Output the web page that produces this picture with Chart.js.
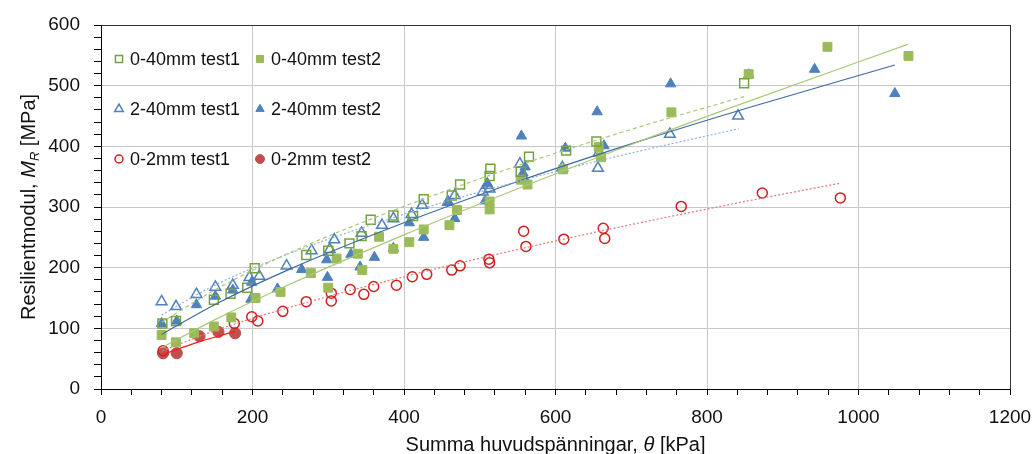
<!DOCTYPE html>
<html>
<head>
<meta charset="utf-8">
<title>Resilientmodul</title>
<script src="https://cdn.jsdelivr.net/npm/chart.js@4.4.1/dist/chart.umd.min.js"></script>
<style>
  body { margin: 0; background: #fff; }
  #wrap { position: relative; width: 1035px; height: 454px; }
</style>
</head>
<body>
<div id="wrap"><canvas id="mrChart"></canvas></div>
<script>
// measured points, theta [kPa] -> Mr [MPa]
const x_040_t1 = [81, 99, 149, 171, 193, 203, 271, 300, 328, 344, 356, 386, 412, 426, 463, 474, 513, 514, 554, 565, 614, 654, 849];
const y_040_t1 = [108, 112, 147, 157, 167, 199, 221, 228, 240, 252, 279, 286, 285, 313, 319, 337, 351, 363, 358, 383, 393, 408, 504];

const x_040_t2 = [80, 99, 123, 149, 172, 204, 237, 277, 300, 311, 339, 345, 367, 386, 407, 426, 460, 470, 513, 513, 554, 563, 610, 657, 660, 753, 855, 959, 1066];
const y_040_t2 = [89, 77, 92, 103, 118, 150, 160, 191, 167, 215, 223, 196, 251, 231, 242, 263, 270, 295, 309, 296, 345, 337, 362, 399, 382, 456, 519, 564, 549];

const x_240_t1 = [80, 99, 126, 151, 174, 196, 209, 245, 278, 302, 308, 344, 371, 386, 410, 424, 458, 467, 504, 510, 513, 553, 557, 609, 656, 657, 751, 841];
const y_240_t1 = [144, 136, 156, 168, 171, 184, 186, 203, 228, 230, 246, 257, 270, 281, 288, 303, 308, 319, 325, 336, 330, 371, 350, 365, 364, 389, 420, 450];

const x_240_t2 = [80, 100, 126, 151, 174, 198, 199, 233, 265, 298, 299, 330, 342, 361, 386, 407, 426, 458, 467, 507, 510, 555, 557, 560, 613, 655, 664, 752, 855, 942, 1048];
const y_240_t2 = [108, 112, 139, 153, 163, 148, 176, 165, 197, 213, 184, 222, 201, 217, 232, 274, 250, 309, 281, 310, 339, 417, 356, 366, 397, 457, 401, 503, 518, 527, 487];

const x_02_t1 = [82, 176, 199, 207, 240, 271, 304, 304, 329, 347, 360, 390, 411, 430, 463, 474, 512, 513, 558, 561, 611, 663, 665, 766, 873, 976];
const y_02_t1 = [63, 108, 119, 112, 128, 144, 158, 145, 164, 156, 169, 171, 185, 189, 196, 203, 214, 208, 260, 235, 247, 265, 248, 301, 323, 315];

const x_02_t2 = [82, 100, 130, 155, 177];
const y_02_t2 = [59, 59, 87, 94, 92];

// trendlines
const tx_040_t1 = [80, 150, 250, 400, 550, 700, 849];
const ty_040_t1 = [110, 163, 225, 301, 368, 428, 482];
const tx_040_t2 = [80, 150, 250, 400, 550, 700, 850, 1065];
const ty_040_t2 = [68, 114, 173, 254, 330, 403, 472, 568];
const tx_240_t1 = [80, 150, 250, 400, 550, 700, 842];
const ty_240_t1 = [122, 171, 224, 288, 342, 389, 429];
const tx_240_t2 = [80, 150, 250, 400, 550, 700, 850, 1048];
const ty_240_t2 = [90, 139, 198, 274, 342, 404, 462, 534];
const tx_02_t1 = [81, 150, 250, 400, 550, 700, 850, 975];
const ty_02_t1 = [63, 96, 135, 185, 230, 271, 309, 339];
const tx_02_t2 = [82, 130, 177];
const ty_02_t2 = [57, 78, 95];

const series_labels = ['0-40mm test1', '0-40mm test2', '2-40mm test1', '2-40mm test2', '0-2mm test1', '0-2mm test2'];

const FONT = '"Liberation Sans", Arial, sans-serif';
const green = '#9bbb59', green_dark = '#76a23e', blue = '#4f81bd', red = '#d01f1f', red_fill = '#c0504d';

function pts(xs, ys) {
    return xs.map((x, i) => ({ x: x, y: ys[i] }));
}

// marker style per series (same order as series_labels)
const marker_styles = [
    { shape: 'rect', r: 6.3, fill: 'rgba(0,0,0,0)', stroke: green_dark, lw: 1.5 },
    { shape: 'rect', r: 6.3, fill: green, stroke: green, lw: 1 },
    { shape: 'triangle', r: 6.2, fill: 'rgba(0,0,0,0)', stroke: blue, lw: 1.5 },
    { shape: 'triangle', r: 6.0, fill: blue, stroke: blue, lw: 1 },
    { shape: 'circle', r: 5.0, fill: 'rgba(0,0,0,0)', stroke: red, lw: 1.5 },
    { shape: 'circle', r: 5.6, fill: red_fill, stroke: red_fill, lw: 1 }
];
const series_data = [
    pts(x_040_t1, y_040_t1), pts(x_040_t2, y_040_t2),
    pts(x_240_t1, y_240_t1), pts(x_240_t2, y_240_t2),
    pts(x_02_t1, y_02_t1), pts(x_02_t2, y_02_t2)
];

function trend(xs, ys, color, dash) {
    return {
        type: 'line',
        data: pts(xs, ys),
        showLine: true,
        borderColor: color,
        borderWidth: 1.2,
        borderDash: dash,
        pointRadius: 0,
        fill: false,
        cubicInterpolationMode: 'monotone'
    };
}

// trendlines first so they are painted on top of the markers
const datasets = [
    trend(tx_040_t1, ty_040_t1, '#a9c978', [4, 3]),
    trend(tx_040_t2, ty_040_t2, '#a9c978', []),
    trend(tx_240_t1, ty_240_t1, '#8db3e2', [2, 2]),
    trend(tx_240_t2, ty_240_t2, '#3e6ba3', []),
    trend(tx_02_t1, ty_02_t1, '#e07b7b', [2, 2]),
    trend(tx_02_t2, ty_02_t2, '#ff1a1a', [])
];
series_data.forEach((d, i) => {
    const m = marker_styles[i];
    datasets.push({
        label: series_labels[i],
        data: d,
        pointStyle: m.shape,
        pointRadius: m.r,
        backgroundColor: m.fill,
        borderColor: m.stroke,
        pointBorderWidth: m.lw
    });
});

function drawMarker(ctx, m, x, y, scale) {
    const r = m.r * scale;
    ctx.save();
    ctx.beginPath();
    if (m.shape === 'rect') {
        const s = r * Math.SQRT1_2;
        ctx.rect(x - s, y - s, 2 * s, 2 * s);
    } else if (m.shape === 'triangle') {
        ctx.moveTo(x, y - r);
        ctx.lineTo(x + r * 0.866, y + r * 0.5);
        ctx.lineTo(x - r * 0.866, y + r * 0.5);
        ctx.closePath();
    } else {
        ctx.arc(x, y, r, 0, Math.PI * 2);
    }
    ctx.fillStyle = m.fill;
    ctx.fill();
    ctx.lineWidth = m.lw;
    ctx.strokeStyle = m.stroke;
    ctx.stroke();
    ctx.restore();
}

// legend inside the plot, two columns
const insideLegend = {
    id: 'insideLegend',
    afterDraw(chart) {
        const ctx = chart.ctx, area = chart.chartArea;
        const cols = [area.left + 18, area.left + 159];
        const rows = [area.top + 34, area.top + 84, area.top + 134];
        ctx.save();
        ctx.font = '18px ' + FONT;
        ctx.fillStyle = '#111';
        ctx.textBaseline = 'middle';
        series_labels.forEach((label, i) => {
            const x = cols[i % 2], y = rows[Math.floor(i / 2)];
            drawMarker(ctx, marker_styles[i], x, y, 0.8);
            ctx.fillText(label, x + 11, y + 1);
        });
        ctx.restore();
    }
};

function richText(ctx, parts, x, y) {
    let total = 0;
    parts.forEach(p => { ctx.font = p.f; total += ctx.measureText(p.t).width; });
    let cx = x - total / 2;
    parts.forEach(p => {
        ctx.font = p.f;
        ctx.fillText(p.t, cx, y + (p.dy || 0));
        cx += ctx.measureText(p.t).width;
    });
}

const axisTitles = {
    id: 'axisTitles',
    afterDraw(chart) {
        const ctx = chart.ctx, area = chart.chartArea;
        const n = '20px ' + FONT, it = 'italic 20px ' + FONT, sub = 'italic 13px ' + FONT;
        ctx.save();
        ctx.fillStyle = '#111';
        ctx.textBaseline = 'alphabetic';
        richText(ctx, [
            { t: 'Summa huvudspänningar, ', f: n },
            { t: 'θ', f: it },
            { t: ' [kPa]', f: n }
        ], (area.left + area.right) / 2, 451);
        ctx.translate(35, (area.top + area.bottom) / 2);
        ctx.rotate(-Math.PI / 2);
        richText(ctx, [
            { t: 'Resilientmodul, ', f: n },
            { t: 'M', f: it },
            { t: 'R', f: sub, dy: 4 },
            { t: ' [MPa]', f: n }
        ], 0, 0);
        ctx.restore();
    }
};

function gridColor(major, last) {
    return ctx => {
        const v = ctx.tick ? ctx.tick.value : null;
        if (v === last) return '#333';
        return v !== null && v % major === 0 ? '#c8c8c8' : 'rgba(0,0,0,0)';
    };
}

const chart = new Chart(document.getElementById('mrChart'), {
    type: 'scatter',
    data: { datasets: datasets },
    options: {
        responsive: true,
        maintainAspectRatio: false,
        animation: false,
        layout: { padding: { left: 0, top: 25, right: 25, bottom: 0 } },
        plugins: {
            legend: { display: false },
            tooltip: { enabled: false }
        },
        scales: {
            x: {
                type: 'linear',
                min: 0,
                max: 1200,
                afterFit: s => { s.height = 65; s.paddingLeft = 0; s.paddingRight = 0; },
                border: { color: '#000', width: 1 },
                grid: { color: gridColor(200, 1200), tickColor: '#000', tickLength: 6 },
                ticks: {
                    stepSize: 40,
                    autoSkip: false,
                    maxRotation: 0,
                    padding: 11,
                    color: '#111',
                    font: { family: FONT, size: 19 },
                    callback: v => (v % 200 === 0 ? v : '')
                }
            },
            y: {
                min: 0,
                max: 600,
                afterFit: s => { s.width = 101; s.paddingTop = 0; s.paddingBottom = 0; },
                border: { color: '#000', width: 1 },
                grid: { color: gridColor(100, 600), tickColor: '#000', tickLength: 7 },
                ticks: {
                    stepSize: 20,
                    autoSkip: false,
                    padding: 14,
                    color: '#111',
                    font: { family: FONT, size: 19 },
                    callback: v => (v % 100 === 0 ? v : '')
                }
            }
        }
    },
    plugins: [insideLegend, axisTitles]
});
</script>
</body>
</html>
